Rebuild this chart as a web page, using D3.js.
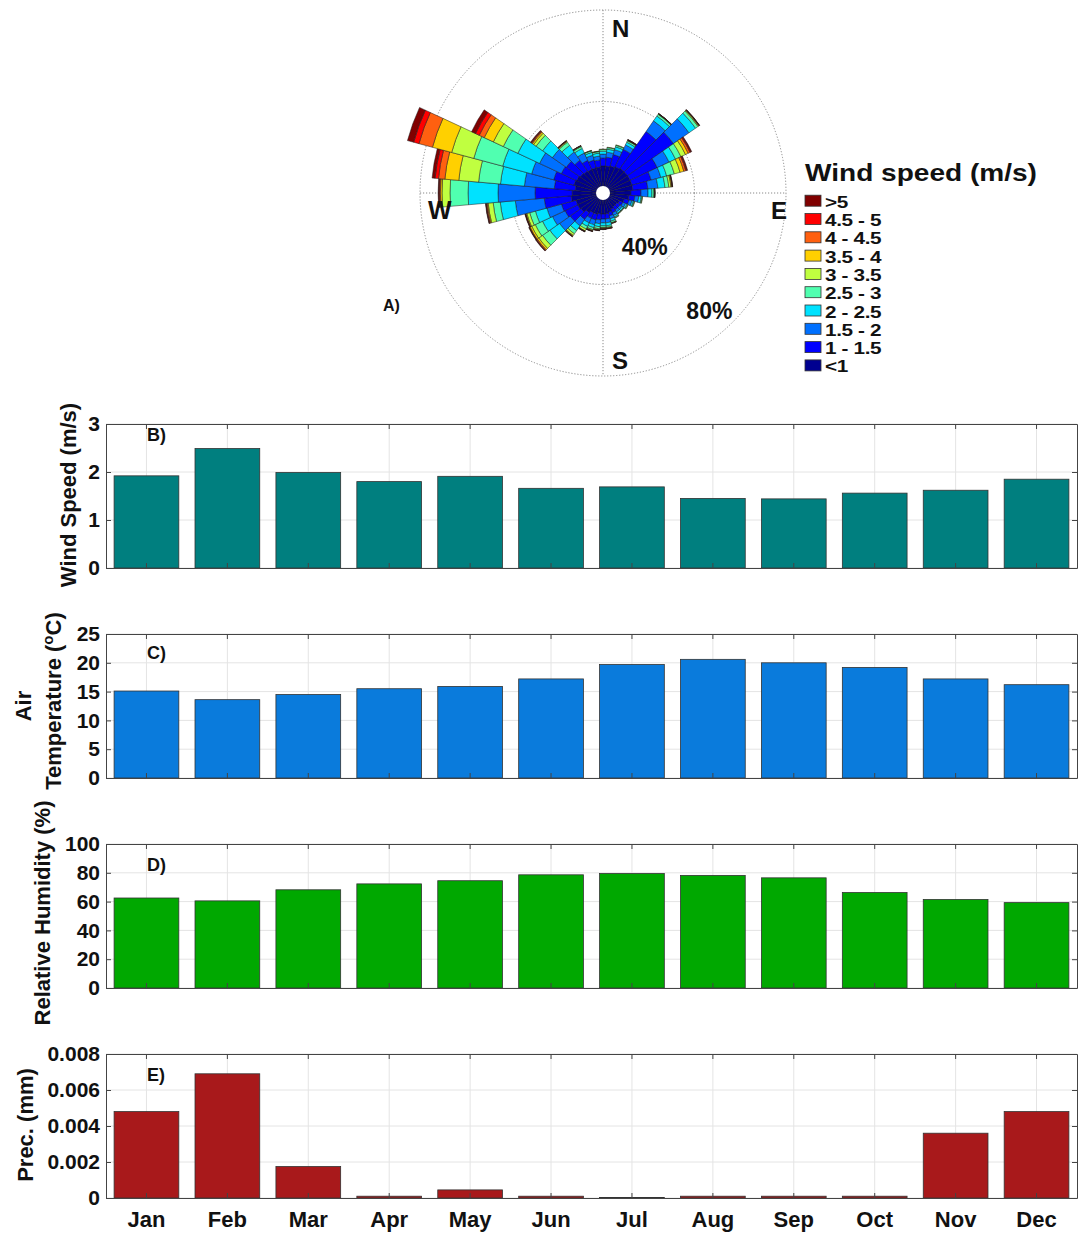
<!DOCTYPE html>
<html>
<head>
<meta charset="utf-8">
<script src="https://cdn.jsdelivr.net/npm/d3@7"></script>
<style>
  body { margin: 0; background: #fff; }
  text { font-family: "Liberation Sans", Arial, sans-serif; font-weight: bold; fill: #111; }
</style>
</head>
<body>
<div id="chart"></div>
<script>
// --------------------
// DATA
// --------------------
const months = ["Jan", "Feb", "Mar", "Apr", "May", "Jun", "Jul", "Aug", "Sep", "Oct", "Nov", "Dec"];
const windSpeed = [1.92, 2.49, 1.99, 1.8, 1.91, 1.66, 1.69, 1.45, 1.44, 1.56, 1.62, 1.85];
const airTemp = [15.1, 13.6, 14.5, 15.5, 15.9, 17.2, 19.7, 20.6, 20.0, 19.2, 17.2, 16.2];
const humidity = [62.5, 60.5, 68.2, 72.3, 74.5, 78.6, 79.5, 78.2, 76.5, 66.3, 61.5, 59.3];
const precip = [0.0048, 0.0069, 0.00175, 0.0001, 0.00045, 0.0001, 0.00003, 0.0001, 0.0001, 0.0001, 0.0036, 0.0048];

const windTicks = [0, 1, 2, 3];
const tempTicks = [0, 5, 10, 15, 20, 25];
const humTicks = [0, 20, 40, 60, 80, 100];
const precTicks = [0, 0.002, 0.004, 0.006, 0.008];

// wind rose: bearing of each sector, speed classes, frequency (%) per class
const directions = [0, 10, 20, 30, 40, 50, 60, 70, 80, 90, 100, 110, 120, 130, 140, 150, 160, 170,
  180, 190, 200, 210, 220, 230, 240, 250, 260, 270, 280, 290, 300, 310, 320, 330, 340, 350];
const speedBins = ["<1", "1 - 1.5", "1.5 - 2", "2 - 2.5", "2.5 - 3", "3 - 3.5", "3.5 - 4", "4 - 4.5", "4.5 - 5", ">5"];
const binColors = ["#000090", "#0000ff", "#0070ff", "#00e2ff", "#50ffb0", "#c0ff40", "#ffd000", "#ff6010", "#ff0000", "#800000"];
const roseFreq = [
  [11.8, 3.5, 1.7, 1.3, 0.7, 0.2, 0, 0, 0, 0],
  [11.8, 3.9, 2.2, 1.3, 0.7, 0.2, 0, 0, 0, 0],
  [12.2, 5.2, 2.2, 1.3, 0.7, 0.2, 0, 0, 0, 0],
  [12.7, 8.3, 2.2, 1.3, 0.7, 0.2, 0.1, 0.1, 0.1, 0.1],
  [13.1, 19.7, 5.7, 2.6, 0.9, 0.2, 0.1, 0.05, 0.05, 0.05],
  [13.1, 24.5, 8.3, 3.5, 1.3, 0.4, 0.2, 0.1, 0.1, 0.1],
  [13.1, 13.1, 5.7, 3.1, 2.6, 2.2, 1.3, 0.9, 0.4, 0.4],
  [13.1, 8.7, 4.4, 2.6, 3.5, 2.6, 1.7, 0.9, 0.4, 0.4],
  [13.1, 6.6, 4.4, 3.1, 1.7, 0.9, 0.4, 0.2, 0.1, 0.1],
  [12.2, 4.4, 3.1, 1.7, 0.9, 0.2, 0.1, 0.05, 0.05, 0.05],
  [11.4, 2.6, 1.7, 1.1, 0.4, 0.2, 0, 0, 0, 0],
  [9.6, 2.2, 1.3, 0.7, 0.4, 0.2, 0, 0, 0, 0],
  [7.9, 1.7, 1.3, 0.7, 0.4, 0.2, 0, 0, 0, 0],
  [7.4, 1.7, 1.1, 0.7, 0.3, 0.1, 0, 0, 0, 0],
  [7.4, 1.7, 1.1, 0.7, 0.3, 0.1, 0, 0, 0, 0],
  [7.9, 1.7, 1.3, 0.7, 0.4, 0.2, 0, 0, 0, 0],
  [8.7, 1.7, 1.3, 1.1, 0.7, 0.2, 0.1, 0.1, 0, 0],
  [9.2, 2.2, 1.7, 1.3, 0.7, 0.3, 0.2, 0.1, 0.1, 0],
  [9.2, 2.2, 1.7, 1.3, 0.7, 0.3, 0.2, 0.2, 0.1, 0.1],
  [9.2, 2.6, 1.7, 1.3, 0.9, 0.4, 0.2, 0.1, 0.1, 0.1],
  [9.6, 2.6, 2.2, 1.3, 0.9, 0.4, 0.2, 0.1, 0.1, 0.1],
  [9.6, 2.6, 2.2, 1.7, 1.3, 0.9, 0.2, 0.1, 0.1, 0.1],
  [10.5, 3.5, 3.5, 2.6, 1.7, 0.9, 0.3, 0.2, 0.1, 0.1],
  [11.8, 5.7, 5.7, 5.2, 3.9, 2.0, 0.8, 0.4, 0.2, 0.2],
  [12.2, 6.1, 6.1, 4.8, 3.5, 1.7, 0.8, 0.3, 0.1, 0.2],
  [12.2, 6.6, 6.6, 5.2, 2.6, 1.3, 0.4, 0.2, 0.1, 0.2],
  [14.0, 11.8, 12.7, 6.6, 3.1, 2.2, 0.4, 0.4, 0.2, 0.2],
  [13.5, 16.2, 16.2, 13.1, 7.9, 3.5, 0.7, 0.4, 0.3, 0.3],
  [12.2, 9.2, 13.1, 10.5, 9.6, 8.7, 6.1, 2.8, 1.5, 1.3],
  [13.1, 9.2, 10.0, 13.1, 13.1, 10.0, 8.7, 6.1, 2.4, 2.8],
  [12.7, 7.4, 10.5, 10.5, 7.0, 4.8, 4.4, 2.4, 1.8, 1.9],
  [12.2, 7.4, 7.4, 5.2, 3.5, 1.3, 0.7, 0.4, 0.3, 0.3],
  [11.8, 5.7, 4.4, 3.5, 1.7, 0.4, 0.2, 0.1, 0.1, 0.1],
  [11.4, 4.4, 3.5, 2.2, 0.9, 0.3, 0.1, 0.05, 0.05, 0],
  [11.4, 3.5, 2.2, 1.3, 0.7, 0.1, 0.1, 0, 0, 0],
  [11.4, 3.1, 1.7, 1.3, 0.7, 0.1, 0.1, 0, 0, 0]
];
const roseRings = [40, 80];


// --------------------
// SVG
// --------------------
const width = 1081;
const height = 1234;

const svg = d3.select("#chart")
  .append("svg")
  .attr("width", width)
  .attr("height", height);


// --------------------
// WIND ROSE (A)
// --------------------
const cx = 603;
const cy = 193;
const sectorHalf = 5;

const r = d3.scaleLinear()
  .domain([0, 80])
  .range([0, 183]);

const rose = svg.append("g")
  .attr("transform", `translate(${cx},${cy})`);

// dotted rings + cross
rose.selectAll("circle.ring")
  .data(roseRings)
  .join("circle")
  .attr("class", "ring")
  .attr("r", d => r(d))
  .attr("fill", "none")
  .attr("stroke", "#8a8a8a")
  .attr("stroke-width", 1)
  .attr("stroke-dasharray", "1.2,1.8");

rose.append("line")
  .attr("x1", 0).attr("x2", 0)
  .attr("y1", -r(80)).attr("y2", r(80))
  .attr("stroke", "#8a8a8a")
  .attr("stroke-dasharray", "1.2,1.8");

rose.append("line")
  .attr("y1", 0).attr("y2", 0)
  .attr("x1", -r(80)).attr("x2", r(80))
  .attr("stroke", "#8a8a8a")
  .attr("stroke-dasharray", "1.2,1.8");

// stacked sectors
const segments = [];
directions.forEach((dir, i) => {
  let cum = 0;
  roseFreq[i].forEach((v, j) => {
    if (v > 0) {
      segments.push({ dir, bin: j, r0: cum, r1: cum + v });
    }
    cum += v;
  });
});

const arc = d3.arc()
  .innerRadius(d => r(d.r0))
  .outerRadius(d => r(d.r1))
  .startAngle(d => (d.dir - sectorHalf) * Math.PI / 180)
  .endAngle(d => (d.dir + sectorHalf) * Math.PI / 180);

rose.selectAll("path.seg")
  .data(segments)
  .join("path")
  .attr("class", "seg")
  .attr("d", arc)
  .attr("fill", d => binColors[d.bin])
  .attr("stroke", "#1b1b1b")
  .attr("stroke-width", 0.5);

rose.append("circle")
  .attr("r", 7)
  .attr("fill", "#fff");

// compass + ring labels
rose.append("text").attr("x", 9).attr("y", -r(80) + 27).style("font-size", "24px").text("N");
rose.append("text").attr("x", 9).attr("y", r(80) - 7).style("font-size", "24px").text("S");
rose.append("text").attr("x", r(80) + 1).attr("y", 26).attr("text-anchor", "end").style("font-size", "24px").text("E");
rose.append("text").attr("x", -r(80) + 8).attr("y", 26).style("font-size", "25px").text("W");

rose.selectAll("text.ringlab")
  .data(roseRings)
  .join("text")
  .attr("class", "ringlab")
  .attr("x", d => r(d) * Math.SQRT1_2)
  .attr("y", d => r(d) * Math.SQRT1_2 - 3)
  .attr("text-anchor", "end")
  .style("font-size", "23px")
  .text(d => `${d}%`);

svg.append("text")
  .attr("x", 383).attr("y", 311)
  .style("font-size", "16px")
  .text("A)");

// legend (glyphs in the original are drawn wide, so stretch x a bit)
const legend = svg.append("g")
  .attr("transform", "translate(805,0)");

legend.append("text")
  .attr("transform", "translate(0,181) scale(1.22,1)")
  .style("font-size", "23px")
  .text("Wind speed (m/s)");

const legendRows = speedBins.map((label, j) => ({ label, color: binColors[j] })).reverse();

const row = legend.selectAll("g.row")
  .data(legendRows)
  .join("g")
  .attr("class", "row")
  .attr("transform", (d, i) => `translate(0,${200.7 + i * 18.3})`);

row.append("rect")
  .attr("x", 0).attr("y", -5.5)
  .attr("width", 16).attr("height", 11)
  .attr("fill", d => d.color)
  .attr("stroke", "#333")
  .attr("stroke-width", 0.8);

row.append("text")
  .attr("transform", "translate(20,7) scale(1.22,1)")
  .style("font-size", "17px")
  .style("letter-spacing", "-0.3px")
  .text(d => d.label);


// --------------------
// BAR PANELS (B-E)
// --------------------
const plotLeft = 106;
const plotRight = 1077;
const plotH = 144;

const x = d3.scaleBand()
  .domain(months)
  .range([plotLeft, plotRight])
  .paddingInner(0.2)
  .paddingOuter(0.1);

const panels = [
  { values: windSpeed, ticks: windTicks, color: "#007f7f", top: 424, tag: "B)", tagY: 441,
    fmt: d => d, label: [{ text: "Wind Speed (m/s)", x: 76, y: 495 }] },
  { values: airTemp, ticks: tempTicks, color: "#0a7bdc", top: 634, tag: "C)", tagY: 659,
    fmt: d => d, label: [{ text: "Air", x: 31, y: 706 }, { text: "Temperature", x: 61, y: 701, temp: true }] },
  { values: humidity, ticks: humTicks, color: "#00a800", top: 844, tag: "D)", tagY: 871,
    fmt: d => d, label: [{ text: "Relative Humidity (%)", x: 50, y: 913 }] },
  { values: precip, ticks: precTicks, color: "#a8191b", top: 1054, tag: "E)", tagY: 1081,
    fmt: d => d === 0 ? "0" : d3.format(".3f")(d), label: [{ text: "Prec. (mm)", x: 33, y: 1125 }] }
];

function styleAxis(g) {
  g.selectAll("path.domain").attr("stroke", "#444").attr("stroke-width", 1);
  g.selectAll(".tick line").attr("stroke", "#444");
  g.selectAll(".tick text")
    .attr("fill", "#111")
    .style("font-family", "'Liberation Sans', Arial, sans-serif")
    .style("font-weight", "bold")
    .style("font-size", "21px");
}

panels.forEach((p, k) => {
  const last = k === panels.length - 1;
  const y = d3.scaleLinear()
    .domain([0, d3.max(p.ticks)])
    .range([p.top + plotH, p.top]);

  const g = svg.append("g");

  // grid
  g.append("g")
    .selectAll("line")
    .data(p.ticks)
    .join("line")
    .attr("x1", plotLeft).attr("x2", plotRight)
    .attr("y1", d => y(d)).attr("y2", d => y(d))
    .attr("stroke", "#e4e4e4");

  g.append("g")
    .selectAll("line")
    .data(months)
    .join("line")
    .attr("x1", d => x(d) + x.bandwidth() / 2)
    .attr("x2", d => x(d) + x.bandwidth() / 2)
    .attr("y1", y.range()[0]).attr("y2", y.range()[1])
    .attr("stroke", "#e4e4e4");

  // bars
  g.append("g")
    .selectAll("rect")
    .data(months)
    .join("rect")
    .attr("x", d => x(d))
    .attr("width", x.bandwidth())
    .attr("y", (d, i) => y(p.values[i]))
    .attr("height", (d, i) => y(0) - y(p.values[i]))
    .attr("fill", p.color)
    .attr("stroke", "#333")
    .attr("stroke-width", 0.8);

  // axes (box, ticks inward)
  g.append("g")
    .attr("transform", `translate(0,${p.top + plotH})`)
    .call(d3.axisBottom(x).tickSize(-5).tickSizeOuter(0).tickPadding(13)
      .tickFormat(last ? d => d : ""))
    .call(styleAxis)
    .call(a => a.selectAll(".tick text").style("font-size", "22px"));

  g.append("g")
    .attr("transform", `translate(0,${p.top})`)
    .call(d3.axisTop(x).tickSize(-5).tickSizeOuter(0).tickFormat(""))
    .call(styleAxis);

  g.append("g")
    .attr("transform", `translate(${plotLeft},0)`)
    .call(d3.axisLeft(y).tickValues(p.ticks).tickSize(-5).tickSizeOuter(0)
      .tickPadding(6).tickFormat(p.fmt))
    .call(styleAxis);

  g.append("g")
    .attr("transform", `translate(${plotRight},0)`)
    .call(d3.axisRight(y).tickValues(p.ticks).tickSize(-5).tickSizeOuter(0).tickFormat(""))
    .call(styleAxis);

  // panel tag
  g.append("text")
    .attr("x", 147).attr("y", p.tagY)
    .style("font-size", "18px")
    .text(p.tag);

  // y label
  p.label.forEach(l => {
    const t = g.append("text")
      .attr("transform", `translate(${l.x},${l.y}) rotate(-90)`)
      .attr("text-anchor", "middle")
      .style("font-size", "22px");
    if (l.temp) {
      t.append("tspan").text("Temperature (");
      t.append("tspan").attr("dy", -8).style("font-size", "15px").text("o");
      t.append("tspan").attr("dy", 8).text("C)");
    } else {
      t.text(l.text);
    }
  });
});
</script>
</body>
</html>
